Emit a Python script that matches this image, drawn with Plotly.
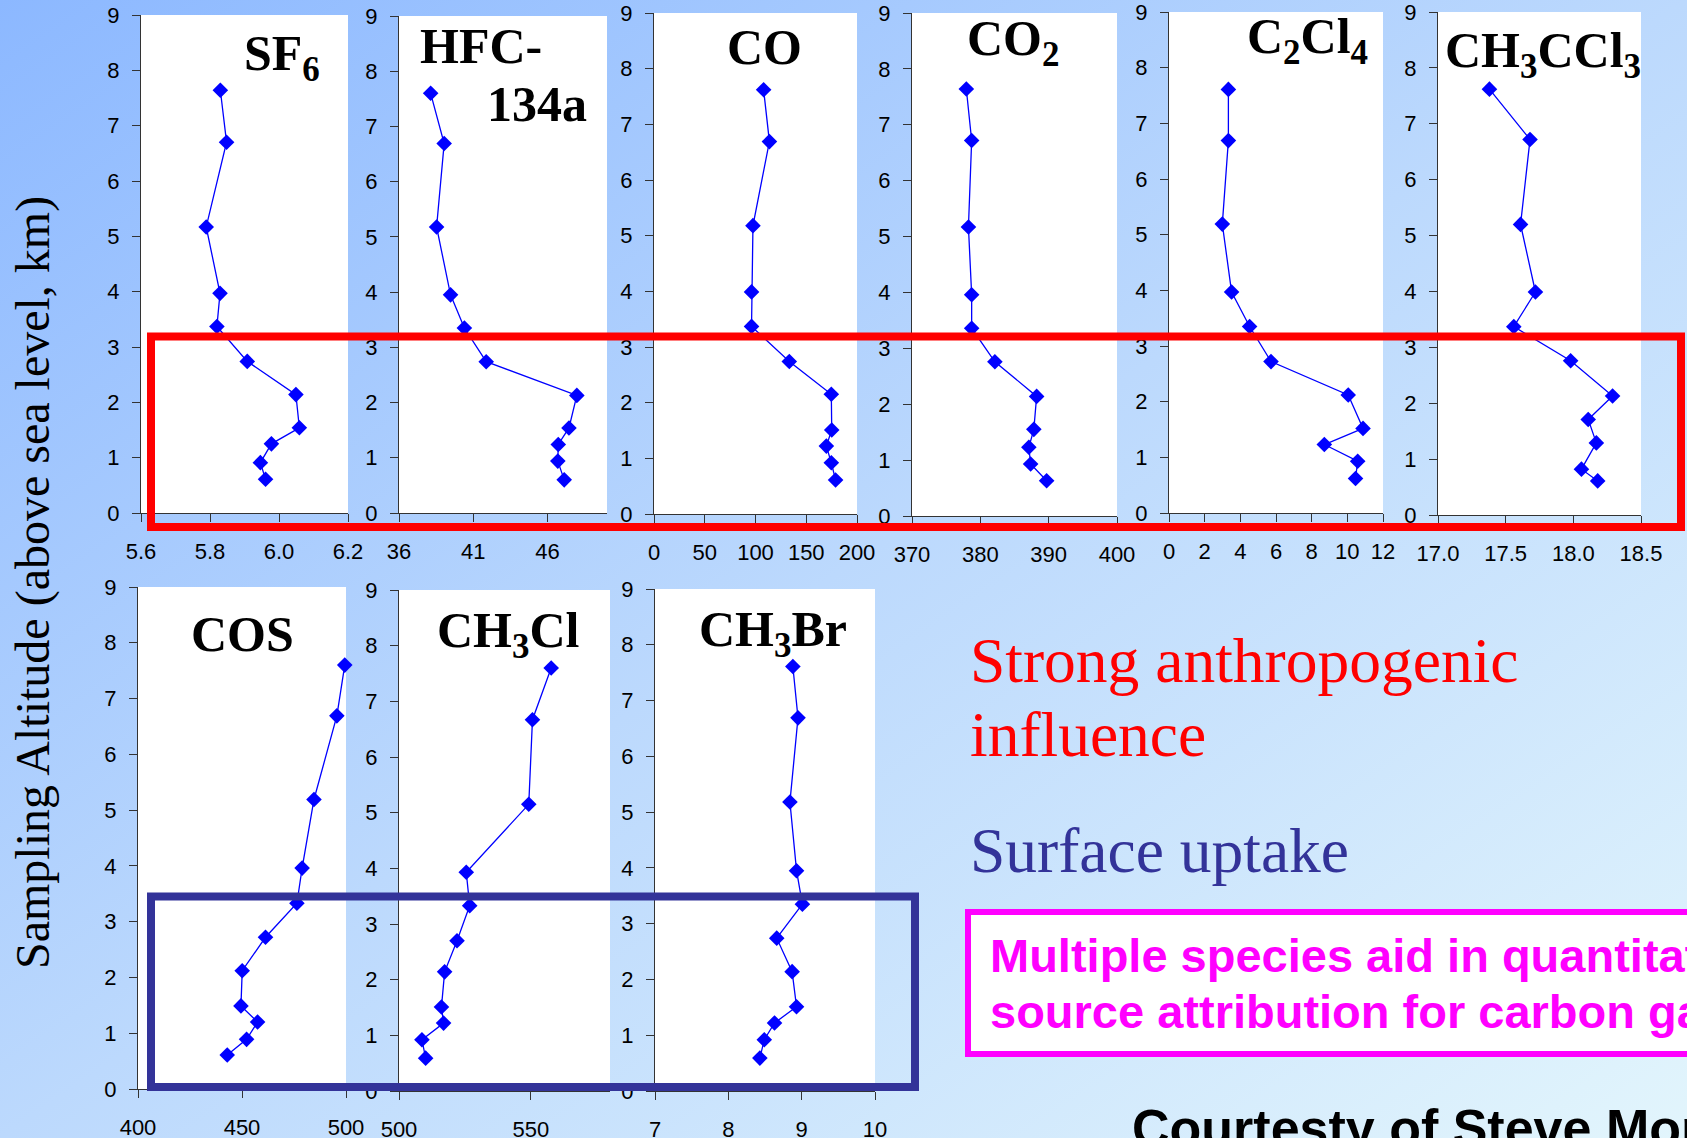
import base64
import plotly.graph_objects as go

W, H = 1687, 1138

# ---------------- data (concentration vs sampling altitude, km) ----------------
sf6_alt = [7.64, 6.70, 5.17, 3.97, 3.37, 2.74, 2.14, 1.54, 1.25, 0.91, 0.61]
sf6_val = [5.830, 5.848, 5.789, 5.829, 5.820, 5.908, 6.049, 6.059, 5.978, 5.946, 5.961]
hfc_alt = [7.60, 6.69, 5.18, 3.95, 3.35, 2.74, 2.13, 1.54, 1.24, 0.94, 0.60]
hfc_val = [38.13, 39.04, 38.53, 39.47, 40.40, 41.87, 47.97, 47.44, 46.72, 46.69, 47.12]
co_alt = [7.62, 6.69, 5.18, 3.99, 3.37, 2.74, 2.15, 1.51, 1.22, 0.92, 0.61]
co_val = [108.0, 113.7, 97.5, 96.1, 96.1, 133.3, 174.7, 175.1, 169.8, 174.7, 178.9]
co2_alt = [7.64, 6.72, 5.17, 3.96, 3.36, 2.76, 2.14, 1.55, 1.23, 0.93, 0.63]
co2_val = [377.95, 378.73, 378.26, 378.73, 378.73, 382.13, 388.24, 387.83, 387.10, 387.36, 389.70]
c2cl4_alt = [7.61, 6.69, 5.19, 3.97, 3.35, 2.72, 2.12, 1.52, 1.23, 0.93, 0.62]
c2cl4_val = [3.33, 3.33, 2.99, 3.51, 4.52, 5.72, 10.05, 10.88, 8.71, 10.58, 10.46]
ch3ccl3_alt = [7.62, 6.72, 5.20, 3.99, 3.37, 2.76, 2.13, 1.71, 1.29, 0.82, 0.61]
ch3ccl3_val = [17.38, 17.68, 17.61, 17.72, 17.56, 17.98, 18.29, 18.11, 18.17, 18.06, 18.18]
cos_alt = [7.60, 6.69, 5.19, 3.96, 3.33, 2.72, 2.12, 1.49, 1.20, 0.89, 0.61]
cos_val = [499.4, 495.6, 484.6, 478.9, 476.4, 461.3, 450.1, 449.5, 457.5, 452.2, 442.9]
ch3cl_alt = [7.60, 6.67, 5.15, 3.93, 3.33, 2.70, 2.14, 1.51, 1.22, 0.92, 0.59]
ch3cl_val = [557.7, 550.6, 549.2, 525.5, 526.8, 522.0, 517.3, 516.1, 516.9, 508.7, 510.1]
ch3br_alt = [7.61, 6.69, 5.18, 3.95, 3.35, 2.74, 2.14, 1.51, 1.22, 0.92, 0.59]
ch3br_val = [8.88, 8.95, 8.84, 8.93, 9.01, 8.66, 8.87, 8.93, 8.63, 8.49, 8.43]

species = ["SF6", "HFC-134a", "CO", "CO2", "C2Cl4", "CH3CCl3", "COS", "CH3Cl", "CH3Br"]
values = [sf6_val, hfc_val, co_val, co2_val, c2cl4_val, ch3ccl3_val, cos_val, ch3cl_val, ch3br_val]
altitudes = [sf6_alt, hfc_alt, co_alt, co2_alt, c2cl4_alt, ch3ccl3_alt, cos_alt, ch3cl_alt, ch3br_alt]

# x-axis ranges / ticks
x_ranges = [[5.6, 6.2], [36, 50], [0, 200], [370, 400], [0, 12], [17.0, 18.5], [400, 500], [500, 580], [7, 10]]
x_tick0 = [5.6, 36, 0, 370, 0, 17.0, 400, 500, 7]
x_dtick = [0.2, 5, 50, 10, 2, 0.5, 50, 50, 1]
x_fmt = [".1f", "", "", "", "", ".1f", "", "", ""]
y_range = [0, 9]

# ---------------- layout geometry (pixels: left, right, top, bottom) ----------------
boxes = [
    (141, 348, 15, 513), (399, 607, 16, 513), (654, 857, 13, 514),
    (912, 1117, 13, 516), (1169, 1383, 12, 513), (1438, 1641, 12, 515),
    (138, 346, 587, 1089), (399, 610, 590, 1091), (655, 875, 589, 1091),
]

def px(x):
    return x / W

def py(y):
    return 1 - y / H

BLUE = "#0000ff"
AXC = "#333333"
TICKFONT = dict(family="Arial, Liberation Sans, sans-serif", size=22, color="black")
SERIF = "Times New Roman, Liberation Serif, serif"
SANS = "Arial, Liberation Sans, sans-serif"

fig = go.Figure()
layout = {}
shapes = []
for i in range(9):
    n = "" if i == 0 else str(i + 1)
    l, r, t, b = boxes[i]
    fig.add_trace(go.Scatter(
        x=values[i], y=altitudes[i], xaxis="x" + n, yaxis="y" + n,
        mode="lines+markers", name=species[i], cliponaxis=False,
        line=dict(color=BLUE, width=1.3),
        marker=dict(symbol="diamond", size=12, color=BLUE, line=dict(width=0)),
        showlegend=False,
    ))
    layout["xaxis" + n] = dict(
        domain=[px(l), px(r)], anchor="y" + n, range=x_ranges[i],
        tick0=x_tick0[i], dtick=x_dtick[i], tickformat=x_fmt[i],
        showline=True, linecolor=AXC, linewidth=1.3, ticks="outside",
        ticklen=8, tickwidth=1.3, tickcolor=AXC, showgrid=False, zeroline=False,
        tickfont=TICKFONT, ticklabelstandoff=10, fixedrange=True, automargin=False,
        ticklabeloverflow="allow",
    )
    layout["yaxis" + n] = dict(
        domain=[py(b), py(t)], anchor="x" + n, range=y_range,
        tick0=0, dtick=1,
        showline=True, linecolor=AXC, linewidth=1.3, ticks="outside",
        ticklen=8, tickwidth=1.3, tickcolor=AXC, showgrid=False, zeroline=False,
        tickfont=TICKFONT, ticklabelstandoff=8, fixedrange=True, automargin=False,
        ticklabeloverflow="allow",
    )
    # white plotting area
    shapes.append(dict(type="rect", xref="paper", yref="paper", x0=px(l), x1=px(r),
                       y0=py(b), y1=py(t), line=dict(width=0), fillcolor="white", layer="below"))

# ---------------- annotations ----------------
ann = []

def add_text(text, x, y, size, family, color="black", xanchor="left", angle=0):
    ann.append(dict(text=text, x=px(x), y=py(y), xref="paper", yref="paper",
                    xanchor=xanchor, yanchor="middle", showarrow=False,
                    textangle=angle, font=dict(family=family, size=size, color=color)))

# panel titles
add_text("<b>SF<sub>6</sub></b>", 322, 57, 50, SERIF, xanchor="right")
add_text("<b>HFC-</b>", 418, 46, 50, SERIF)
add_text("<b>134a</b>", 589, 104, 50, SERIF, xanchor="right")
add_text("<b>CO</b>", 764, 47, 50, SERIF, xanchor="center")
add_text("<b>CO<sub>2</sub></b>", 965, 42, 50, SERIF)
add_text("<b>C<sub>2</sub>Cl<sub>4</sub></b>", 1370, 40, 50, SERIF, xanchor="right")
add_text("<b>CH<sub>3</sub>CCl<sub>3</sub></b>", 1443, 54, 50, SERIF)
add_text("<b>COS</b>", 189, 634, 50, SERIF)
add_text("<b>CH<sub>3</sub>Cl</b>", 435, 634, 50, SERIF)
add_text("<b>CH<sub>3</sub>Br</b>", 697, 633, 50, SERIF)

# y axis title
add_text("Sampling Altitude (above sea level, km)", 33, 583, 48, SERIF, xanchor="center", angle=-90)

# right-hand text
add_text("Strong anthropogenic", 968, 660, 63.5, SERIF, color="#ff0000")
add_text("influence", 968, 734, 63.5, SERIF, color="#ff0000")
add_text("Surface uptake", 968, 850, 63.5, SERIF, color="#333399")
add_text("<b>Multiple species aid in quantitative</b>", 988, 955, 47, SANS, color="#ff00ff")
add_text("<b>source attribution for carbon gases</b>", 988, 1011, 47, SANS, color="#ff00ff")
add_text("<b>Courtesty of Steve Montzka</b>", 1130, 1128, 52, SANS, color="black")

# ---------------- boxes ----------------
shapes += [
    dict(type="rect", xref="paper", yref="paper", x0=px(968), x1=px(1760), y0=py(1054), y1=py(912),
         line=dict(color="#ff00ff", width=6), fillcolor="white", layer="below"),
    dict(type="rect", xref="paper", yref="paper", x0=px(151), x1=px(1681), y0=py(527), y1=py(336.5),
         line=dict(color="#ff0000", width=8), fillcolor="rgba(0,0,0,0)", layer="above"),
    dict(type="rect", xref="paper", yref="paper", x0=px(151), x1=px(915), y0=py(1087), y1=py(896.5),
         line=dict(color="#333399", width=8), fillcolor="rgba(0,0,0,0)", layer="above"),
]

# ---------------- gradient background ----------------
svg = ('<svg xmlns="http://www.w3.org/2000/svg" width="%d" height="%d">'
       '<defs><linearGradient id="g" x1="0" y1="0" x2="1" y2="1">'
       '<stop offset="0" stop-color="#8cb8ff"/><stop offset="0.5" stop-color="#bcd9fd"/>'
       '<stop offset="1" stop-color="#e2f5fc"/></linearGradient></defs>'
       '<rect width="%d" height="%d" fill="url(#g)"/></svg>') % (W, H, W, H)
bg_src = "data:image/svg+xml;base64," + base64.b64encode(svg.encode()).decode()

fig.update_layout(
    width=W, height=H, autosize=False,
    margin=dict(l=0, r=0, t=0, b=0, pad=0, autoexpand=False),
    paper_bgcolor="#bcd9fd", plot_bgcolor="white",
    annotations=ann, shapes=shapes,
    images=[dict(source=bg_src, xref="paper", yref="paper", x=0, y=1, sizex=1, sizey=1,
                 xanchor="left", yanchor="top", sizing="stretch", layer="below")],
    **layout,
)

fig.write_html(
    "out.html",
    config={"displayModeBar": False, "responsive": False},
    post_script="document.body.style.margin='0';document.body.style.padding='0';"
                "document.documentElement.style.overflow='hidden';",
)
